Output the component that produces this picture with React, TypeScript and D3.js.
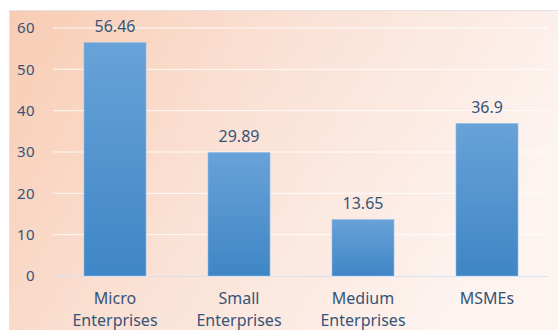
import React from "react";
import * as d3 from "d3";

const categories: string[][] = [["Micro", "Enterprises"], ["Small", "Enterprises"], ["Medium", "Enterprises"], ["MSMEs"]];
const values: number[] = [56.46, 29.89, 13.65, 36.9];
const valueLabels: string[] = ["56.46", "29.89", "13.65", "36.9"];
const yTicks: number[] = [0, 10, 20, 30, 40, 50, 60];

export default function App() {
  const W = 558, H = 330;
  const x = d3.scaleBand<number>().domain(d3.range(values.length)).range([53, 549]).paddingInner(0.5).paddingOuter(0.25);
  const y = d3.scaleLinear().domain([0, 60]).range([276, 28]);
  const font = "'Noto Sans', 'Open Sans', sans-serif";
  const textColor = "#365478";
  return (
    <div style={{ position: "fixed", left: 0, top: 0 }}>
      <svg width={W} height={H} style={{ display: "block" }}>
        <defs>
          <linearGradient id="bg" x1="0" y1="0" x2="1" y2="0.35">
            <stop offset="0" stopColor="#f8ccb3" />
            <stop offset="0.45" stopColor="#fae0d3" />
            <stop offset="1" stopColor="#fdf3ef" />
          </linearGradient>
          <linearGradient id="bar" x1="0" y1="0" x2="0" y2="1">
            <stop offset="0" stopColor="#68a2d8" />
            <stop offset="1" stopColor="#3f86c6" />
          </linearGradient>
        </defs>
        <rect x={0} y={0} width={W} height={H} fill="#ffffff" />
        <rect x={9} y={10} width={W - 9} height={H - 10} fill="url(#bg)" />
        <line x1={9} x2={W} y1={10.5} y2={10.5} stroke="#e4e2e6" strokeWidth={1} />
        <line x1={9.5} x2={9.5} y1={10} y2={H} stroke="#ece0dc" strokeWidth={1} />
        {yTicks.map((t) => (
          <g key={t}>
            {t > 0 && (
              <line x1={53} x2={548} y1={y(t)} y2={y(t)} stroke="#ffffff" strokeOpacity={0.85} strokeWidth={1} />
            )}
            <text x={35} y={y(t)} dy="0.36em" textAnchor="end" fontFamily={font} fontSize={15} letterSpacing={0.4} fill={textColor}>
              {t}
            </text>
          </g>
        ))}
        {values.map((v, i) => (
          <rect key={i} x={x(i)} y={y(v)} width={x.bandwidth()} height={y(0) - y(v)} fill="url(#bar)" stroke="#8fbde6" strokeWidth={0.6} />
        ))}
        <line x1={53} x2={548} y1={y(0) + 0.5} y2={y(0) + 0.5} stroke="#d8e2ee" strokeWidth={1} />
        {values.map((v, i) => (
          <text key={i} x={(x(i) as number) + x.bandwidth() / 2} y={y(v) - 10.5} textAnchor="middle" fontFamily={font} fontSize={16} fill={textColor}>
            {valueLabels[i]}
          </text>
        ))}
        {categories.map((lines, i) => (
          <text key={i} x={(x(i) as number) + x.bandwidth() / 2} textAnchor="middle" fontFamily={font} fontSize={16} fill={textColor}>
            {lines.map((l, j) => (
              <tspan key={j} x={(x(i) as number) + x.bandwidth() / 2} y={304 + j * 21.5}>
                {l}
              </tspan>
            ))}
          </text>
        ))}
      </svg>
    </div>
  );
}
